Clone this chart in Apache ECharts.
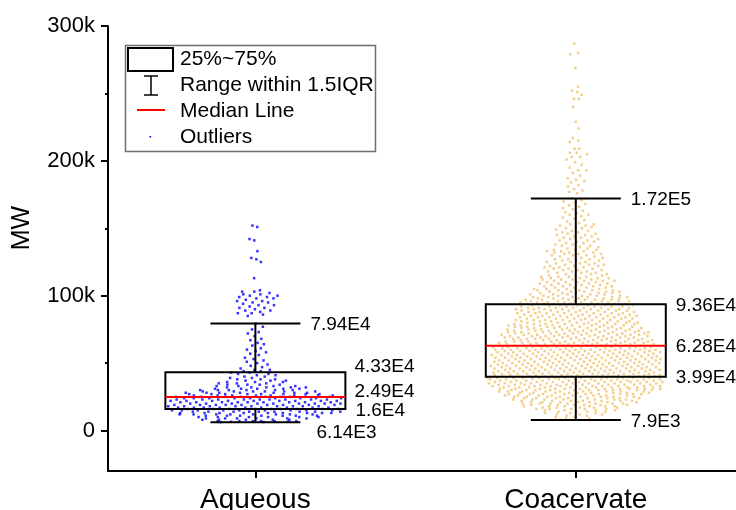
<!DOCTYPE html>
<html><head><meta charset="utf-8">
<script src="https://cdn.jsdelivr.net/npm/echarts@6/dist/echarts.min.js"></script>
<style>html,body{margin:0;padding:0;background:#fff}#c{width:736px;height:510px}</style>
</head><body><div id="c"></div>
<script>
// ---------------- data ----------------
const categories = ['Aqueous', 'Coacervate'];
const yTicks = [0, 100000, 200000, 300000];
const yTickLabels = ['0', '100k', '200k', '300k'];
const yMinorTicks = [50000, 150000, 250000];
const legendLabels = ['25%~75%', 'Range within 1.5IQR', 'Median Line', 'Outliers'];
const yAxisName = 'MW';
// box statistics: [lower whisker, Q1, median, Q3, upper whisker]
const aqueousStats = [6140, 16000, 24900, 43300, 79400];
const coacervateStats = [7900, 39900, 62800, 93600, 172000];
// individual measurements, in thousands (k)
const aqueousPointsK = [
6.2,6.3,6.5,6.7,6.9,7,7,7,7,7,8,8,8,8,8,9,9,9,9,9,9,10,10,10,10,10,10,
11,11,11,11,11,11,11,12,12,12,12,12,12,12,12,
13,13,13,13,13,13,13,13,13,14,14,14,14,14,14,14,14,14,15,15,15,15,15,15,15,15,15,
16,16,16,16,16,16,16,16,16,17,17,17,17,17,17,17,17,17,18,18,18,18,18,18,18,18,18,
19,19,19,19,19,19,19,19,19,20,20,20,20,20,20,20,20,20,21,21,21,21,21,21,21,21,21,
22,22,22,22,22,22,22,22,22,23,23,23,23,23,23,23,23,23,24,24,24,24,24,24,24,24,24,
25,25,25,25,25,25,25,25,25,26,26,26,26,26,26,26,26,27,27,27,27,27,27,27,27,
28,28,28,28,28,28,28,29,29,29,29,29,29,30,30,30,30,30,30,31,31,31,31,31,32,32,32,32,32,
33,33,33,33,34,34,34,34,35,35,35,36,36,36,37,37,37,38,38,38,
39,39,40,40,41,41,42,42,43,43,44,44,45,45,
46,47,48,49,50,51,52,53,54,56,57,58,59,
60,61,63,64,65,67,68,70,72,73,75,77,79.4,
85,86,87,87,88,89,89,90,91,91,92,93,93,94,95,95,96,96,97,98,98,99,99,100,100,101,101,102,103,103,104,
113,125,127,128,133,141,142,151,152
];
const coacervatePointsK = [
8,8,9,9,
10,10,11,11,12,12,12,13,13,13,14,14,14,14,15,15,15,15,16,16,16,16,16,17,17,17,17,17,18,18,18,18,18,18,19,19,19,19,19,19,
20,20,20,20,20,20,20,21,21,21,21,21,21,21,22,22,22,22,22,22,22,23,23,23,23,23,23,23,23,
24,24,24,24,24,24,24,24,25,25,25,25,25,25,25,25,26,26,26,26,26,26,26,26,
27,27,27,27,27,27,27,27,27,28,28,28,28,28,28,28,28,28,29,29,29,29,29,29,29,29,29,
30,30,30,30,30,30,30,30,30,30,31,31,31,31,31,31,31,31,31,31,31,32,32,32,32,32,32,32,32,32,32,32,
33,33,33,33,33,33,33,33,33,33,33,34,34,34,34,34,34,34,34,34,34,34,35,35,35,35,35,35,35,35,35,35,35,
36,36,36,36,36,36,36,36,36,36,36,37,37,37,37,37,37,37,37,37,37,37,38,38,38,38,38,38,38,38,38,38,38,
39,39,39,39,39,39,39,39,39,39,39,39,
40,40,40,40,40,40,40,40,40,40,40,41,41,41,41,41,41,41,41,41,41,42,42,42,42,42,42,42,42,42,42,42,
43,43,43,43,43,43,43,43,43,43,44,44,44,44,44,44,44,44,44,44,44,45,45,45,45,45,45,45,45,45,45,
46,46,46,46,46,46,46,46,46,46,46,47,47,47,47,47,47,47,47,47,47,48,48,48,48,48,48,48,48,48,48,48,
49,49,49,49,49,49,49,49,49,49,
50,50,50,50,50,50,50,50,50,50,50,51,51,51,51,51,51,51,51,51,51,52,52,52,52,52,52,52,52,52,52,52,
53,53,53,53,53,53,53,53,53,53,54,54,54,54,54,54,54,54,54,54,54,55,55,55,55,55,55,55,55,55,55,
56,56,56,56,56,56,56,56,56,56,56,57,57,57,57,57,57,57,57,57,57,58,58,58,58,58,58,58,58,58,58,58,
59,59,59,59,59,59,59,59,59,59,
60,60,60,60,60,60,60,60,60,60,60,61,61,61,61,61,61,61,61,61,61,62,62,62,62,62,62,62,62,62,62,
63,63,63,63,63,63,63,63,63,63,64,64,64,64,64,64,64,64,64,64,65,65,65,65,65,65,65,65,65,65,
66,66,66,66,66,66,66,66,66,67,67,67,67,67,67,67,67,67,68,68,68,68,68,68,68,68,68,69,69,69,69,69,69,69,69,69,
70,70,70,70,70,70,70,70,70,71,71,71,71,71,71,71,71,71,72,72,72,72,72,72,72,72,72,
73,73,73,73,73,73,73,73,73,74,74,74,74,74,74,74,74,74,
75,75,75,75,75,75,75,75,76,76,76,76,76,76,76,76,77,77,77,77,77,77,77,77,78,78,78,78,78,78,78,78,79,79,79,79,79,79,79,79,
80,80,80,80,80,80,80,81,81,81,81,81,81,81,82,82,82,82,82,82,82,83,83,83,83,83,83,83,84,84,84,84,84,84,84,
85,85,85,85,85,85,85,86,86,86,86,86,86,86,87,87,87,87,87,87,87,88,88,88,88,88,88,88,89,89,89,89,89,89,89,
90,90,90,90,90,90,90,91,91,91,91,91,91,91,92,92,92,92,92,92,93,93,93,93,93,93,
94,94,94,94,94,94,94,95,95,95,95,95,95,95,96,96,96,96,96,96,97,97,97,97,97,97,98,98,98,98,98,98,99,99,99,99,99,99,
100,100,100,100,100,101,101,101,101,101,102,102,102,102,102,103,103,103,103,103,104,104,104,104,104,
105,105,105,105,106,106,106,106,107,107,107,107,108,108,108,108,109,109,109,109,
110,110,110,110,111,111,111,111,112,112,112,112,113,113,113,113,114,114,114,114,
115,115,115,116,116,116,117,117,117,118,118,118,119,119,119,
120,120,120,121,121,121,122,122,122,123,123,123,124,124,124,125,125,125,126,126,126,127,127,127,128,128,129,129,
130,130,130,131,131,131,132,132,132,133,133,133,134,134,134,135,135,136,136,137,137,138,138,139,139,
140,140,141,141,142,142,143,143,144,144,145,145,146,146,147,147,148,148,149,
150,150,151,151,152,152,153,153,154,155,156,157,158,159,
160,160,161,162,163,164,165,166,167,168,169,
170,171,172,172,
176,177,178,179,181,182,184,185,186,187,189,191,193,193,195,197,199,
201,203,203,205,206,206,209,209,214,215,217,224,229,240,246,246,249,251,252,255,269,279,280,287
];

// ---------------- layout / styling ----------------
const FONT = '"Liberation Sans", Arial, Helvetica, sans-serif';
const X_MIN = 0.54, X_MAX = 2.5;
const GRID_LEFT = 108, GRID_TOP = 26, GRID_BOTTOM = 39, GRID_RIGHT = 0;
const PX_PER_UNIT = (736 - GRID_LEFT - GRID_RIGHT) / (X_MAX - X_MIN);

// density-shaped jitter layout (deterministic) for the point clouds
function swarm(valsK, center, maxHalfPx, p) {
  const s = valsK.slice().sort((a, b) => a - b);
  const dens = s.map(v => { let c = 0; for (const u of s) if (Math.abs(u - v) <= 2.5) c++; return c; });
  const dmax = Math.max.apply(null, dens);
  return s.map((v, i) => {
    const spread = maxHalfPx * Math.pow(dens[i] / dmax, p);
    const q = ((i * 0.6180339887) % 1) * 2 - 1;
    return [center + spread * q / PX_PER_UNIT, v * 1000];
  });
}

function fmtE(v) {
  const e = Math.floor(Math.log10(v));
  const m = parseFloat((v / Math.pow(10, e)).toFixed(2)).toString();
  return m + 'E' + e;
}

const statsList = [aqueousStats, coacervateStats];
const boxData = statsList.map((s, i) => [i + 1].concat(s));
// label offsets (px) per box: [dx, dy] for low, q1, med, q3, high
const labelOffsets = [
  [[16, 10], [10, 2], [9, -5], [9, -5], [10, 1]],
  [[10, 1.5], [10, 1], [10, 1], [10, 1], [10, 1]]
];

const chart = echarts.init(document.getElementById('c'), null, { renderer: 'canvas' });

const option = {
  animation: false,
  backgroundColor: '#fff',
  grid: { left: GRID_LEFT, top: GRID_TOP, bottom: GRID_BOTTOM, right: GRID_RIGHT,
    containLabel: false, outerBoundsMode: 'none' },
  xAxis: [{
    type: 'value', min: X_MIN, max: X_MAX,
    axisLine: { show: true, onZero: false, lineStyle: { color: '#000', width: 2 } },
    axisTick: { show: true, customValues: [1, 2], length: 7, lineStyle: { color: '#000', width: 2 } },
    axisLabel: { show: true, customValues: [1, 2], formatter: v => categories[Math.round(v) - 1],
      fontSize: 28, color: '#000', fontFamily: FONT, margin: 15 },
    splitLine: { show: false }
  }],
  yAxis: [{
    type: 'value', min: -30000, max: 300000,
    axisLine: { show: true, onZero: false, lineStyle: { color: '#000', width: 2 } },
    axisTick: { show: true, customValues: yTicks, length: 7, lineStyle: { color: '#000', width: 2 } },
    axisLabel: { show: true, customValues: yTicks, formatter: v => yTickLabels[yTicks.indexOf(v)],
      fontSize: 22, color: '#000', fontFamily: FONT, margin: 13 },
    splitLine: { show: false }
  }, {
    type: 'value', min: -30000, max: 300000, position: 'left', offset: 0,
    axisLine: { show: false },
    axisTick: { show: true, customValues: yMinorTicks, length: 3, lineStyle: { color: '#000', width: 2 } },
    axisLabel: { show: false },
    splitLine: { show: false }
  }],
  series: [{
    type: 'scatter', name: categories[0], silent: true, z: 1,
    data: swarm(aqueousPointsK, 1, 88, 0.85),
    symbol: 'rect', symbolSize: 2.5, itemStyle: { color: '#0000ff' }
  }, {
    type: 'scatter', name: categories[1], silent: true, z: 1,
    data: swarm(coacervatePointsK, 2, 90, 0.8),
    symbol: 'rect', symbolSize: 2.5, itemStyle: { color: '#f0c36e' }
  }, {
    type: 'custom', z: 5, silent: true,
    data: boxData,
    renderItem: function (params, api) {
      const i = params.dataIndex;
      const x = api.value(0);
      const st = [api.value(1), api.value(2), api.value(3), api.value(4), api.value(5)];
      const pts = st.map(v => api.coord([x, v]));
      const cx = pts[0][0];
      const boxHalf = 90, capHalf = 45;
      const ys = pts.map(p => p[1]);
      const ls = { stroke: '#000', lineWidth: 2 };
      const children = [
        { type: 'line', shape: { x1: cx, y1: ys[0], x2: cx, y2: ys[1] }, style: ls },
        { type: 'line', shape: { x1: cx, y1: ys[3], x2: cx, y2: ys[4] }, style: ls },
        { type: 'line', shape: { x1: cx - capHalf, y1: ys[0], x2: cx + capHalf, y2: ys[0] }, style: ls },
        { type: 'line', shape: { x1: cx - capHalf, y1: ys[4], x2: cx + capHalf, y2: ys[4] }, style: ls },
        { type: 'rect', shape: { x: cx - boxHalf, y: ys[3], width: boxHalf * 2, height: ys[1] - ys[3] },
          style: { fill: 'none', stroke: '#000', lineWidth: 2 } },
        { type: 'line', shape: { x1: cx - boxHalf, y1: ys[2], x2: cx + boxHalf, y2: ys[2] },
          style: { stroke: '#ff0000', lineWidth: 2 } }
      ];
      st.forEach((v, k) => {
        const base = (k === 0 || k === 4) ? cx + capHalf : cx + boxHalf;
        const off = labelOffsets[i][k];
        children.push({ type: 'text', x: base + off[0], y: ys[k] + off[1],
          style: { text: fmtE(v), font: '19px ' + FONT, fill: '#000', align: 'left', verticalAlign: 'middle' } });
      });
      return { type: 'group', children: children };
    }
  }],
  graphic: [
    { type: 'text', x: 22, y: 228, rotation: Math.PI / 2,
      style: { text: yAxisName, font: '25px ' + FONT, fill: '#000', align: 'center', verticalAlign: 'middle' } },
    { type: 'rect', z: 100, shape: { x: 125.5, y: 45.5, width: 250, height: 106 },
      style: { fill: '#fff', stroke: '#6e6e6e', lineWidth: 1.5 } },
    { type: 'rect', z: 101, shape: { x: 128, y: 48, width: 45, height: 23 },
      style: { fill: 'none', stroke: '#000', lineWidth: 2 } },
    { type: 'line', z: 101, shape: { x1: 151, y1: 76, x2: 151, y2: 95 }, style: { stroke: '#000', lineWidth: 1.5 } },
    { type: 'line', z: 101, shape: { x1: 144, y1: 76, x2: 158, y2: 76 }, style: { stroke: '#000', lineWidth: 1.5 } },
    { type: 'line', z: 101, shape: { x1: 144, y1: 95, x2: 158, y2: 95 }, style: { stroke: '#000', lineWidth: 1.5 } },
    { type: 'line', z: 101, shape: { x1: 137, y1: 110, x2: 165, y2: 110 }, style: { stroke: '#ff0000', lineWidth: 2 } },
    { type: 'rect', z: 101, shape: { x: 149.5, y: 136, width: 1.6, height: 1.6 }, style: { fill: '#0000ff' } }
  ].concat(legendLabels.map((t, k) => ({
    type: 'text', z: 101, x: 180, y: [59, 85, 111, 137][k],
    style: { text: t, font: '21px ' + FONT, fill: '#000', align: 'left', verticalAlign: 'middle' }
  })))
};
chart.setOption(option);
</script>
</body></html>
